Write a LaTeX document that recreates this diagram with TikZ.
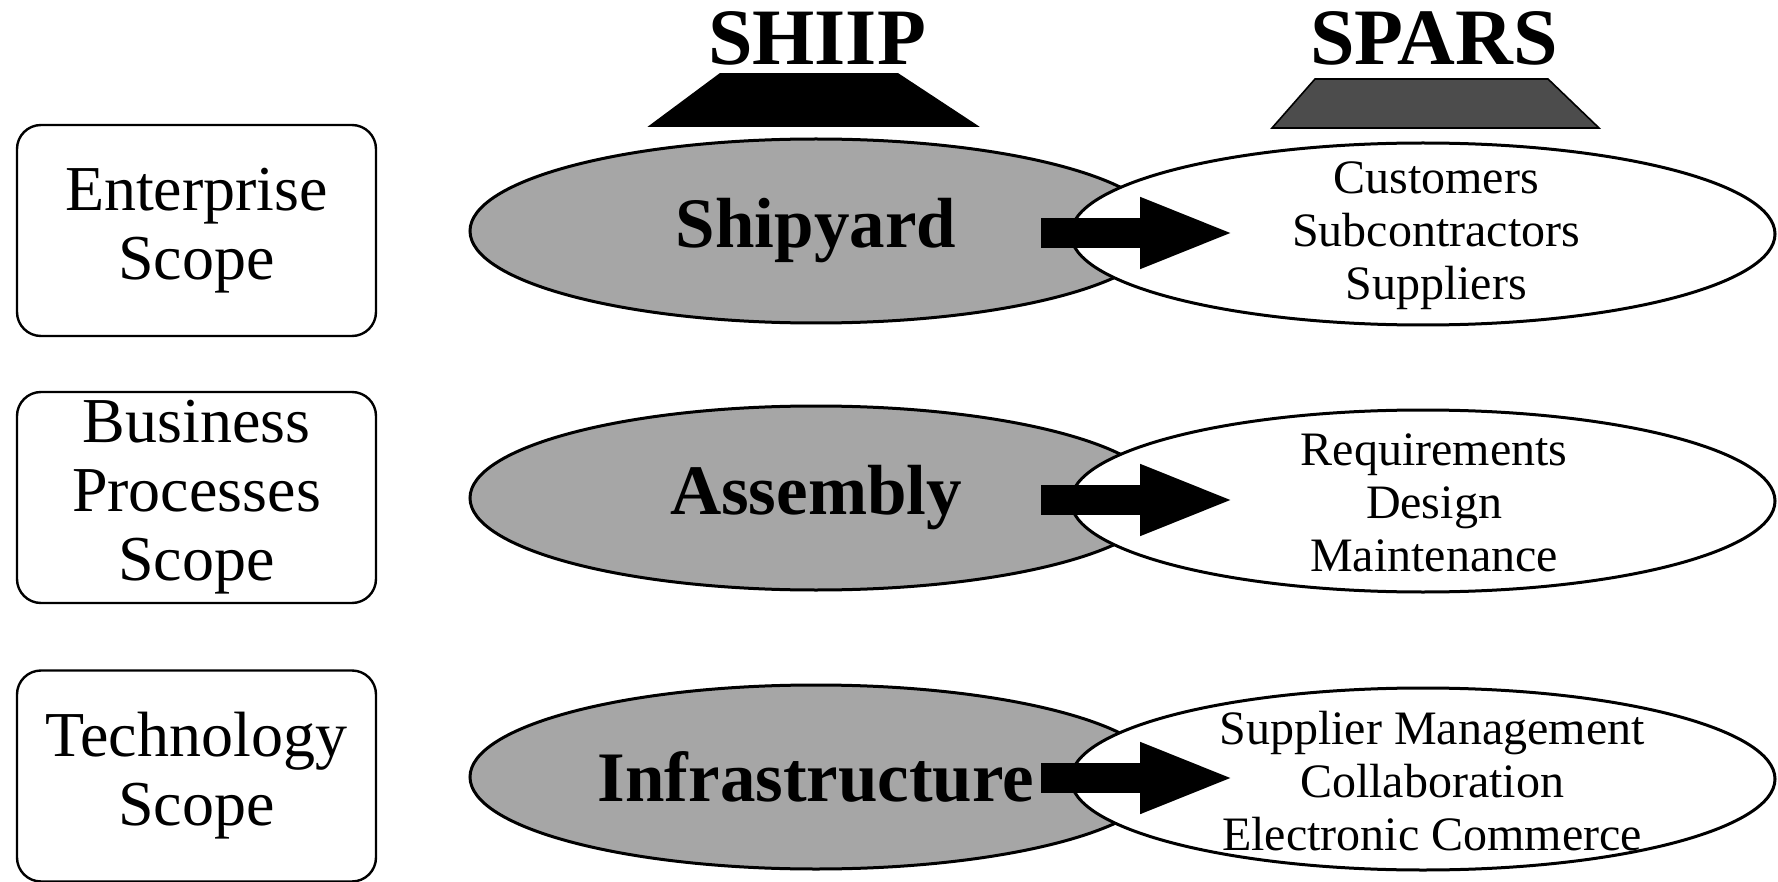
\documentclass[tikz,border=0pt]{standalone}
\usepackage{fontspec}
\setmainfont{Liberation Serif}
\usetikzlibrary{shapes.geometric,arrows.meta}
\begin{document}
\begin{tikzpicture}[x=0.5pt,y=-0.5pt,
 scopebox/.style={draw, line width=1.2pt, rounded corners=12pt, minimum width=179.5pt, minimum height=105.5pt, align=center, font=\fontsize{32}{34.5}\selectfont, inner sep=0pt},
 shiipell/.style={ellipse, draw, line width=1.5pt, fill=black!35, minimum width=346pt, minimum height=92pt, inner sep=0pt, font=\fontsize{35.5}{40}\selectfont\bfseries},
 sparsell/.style={ellipse, draw, line width=1.5pt, fill=white, minimum width=352pt, minimum height=91pt, inner sep=0pt},
 sparstext/.style={align=center, inner sep=0pt, font=\fontsize{24}{26.5}\selectfont},
 flow/.style={line width=15pt, -{Triangle[width=32pt,length=48pt]}},
 titletext/.style={font=\fontsize{40}{40}\selectfont\bfseries, anchor=base, inner sep=0pt},
 trap/.style={draw, line width=0.8pt, line join=miter}
]
\useasboundingbox (0,0) rectangle (1778,882);

% titles and trapezoids
\node[titletext] (tshiip) at (817,65) {SHIIP};
\node[titletext] (tspars) at (1434,65) {SPARS};
\filldraw[trap, fill=black] (720,74) -- (898,74) -- (977,126) -- (650,126) -- cycle;
\filldraw[trap, fill=black!70] (1315,79) -- (1548,79) -- (1599,128) -- (1272,128) -- cycle;

% scope boxes
\node[scopebox] (b1) at (196.5,230.5) {Enterprise\\Scope};
\node[scopebox] (b2) at (196.5,497.5) {Business\\Processes\\Scope};
\node[scopebox] (b3) at (196.5,776) {Technology\\Scope};

% row 1
\node[shiipell] (l1) at (816,231) {Shipyard};
\node[sparsell] (r1) at (1423,234) {};
\node[sparstext] (r1t) at (1436,236) {Customers\\Subcontractors\\Suppliers};
\coordinate (a1s) at (1041,233);
\coordinate (a1e) at (1236,233);
\draw[flow] (a1s) -- (a1e);

% row 2
\node[shiipell] (l2) at (816,498) {Assembly};
\node[sparsell] (r2) at (1423,501) {};
\node[sparstext] (r2t) at (1434,503) {Requirements\\Design\\Maintenance};
\coordinate (a2s) at (1041,500);
\coordinate (a2e) at (1236,500);
\draw[flow] (a2s) -- (a2e);

% row 3
\node[shiipell] (l3) at (816,777) {Infrastructure};
\node[sparsell] (r3) at (1423,779) {};
\node[sparstext] (r3t) at (1432,781) {Supplier Management\\Collaboration\\Electronic Commerce};
\coordinate (a3s) at (1041,778);
\coordinate (a3e) at (1236,778);
\draw[flow] (a3s) -- (a3e);
\end{tikzpicture}
\end{document}
